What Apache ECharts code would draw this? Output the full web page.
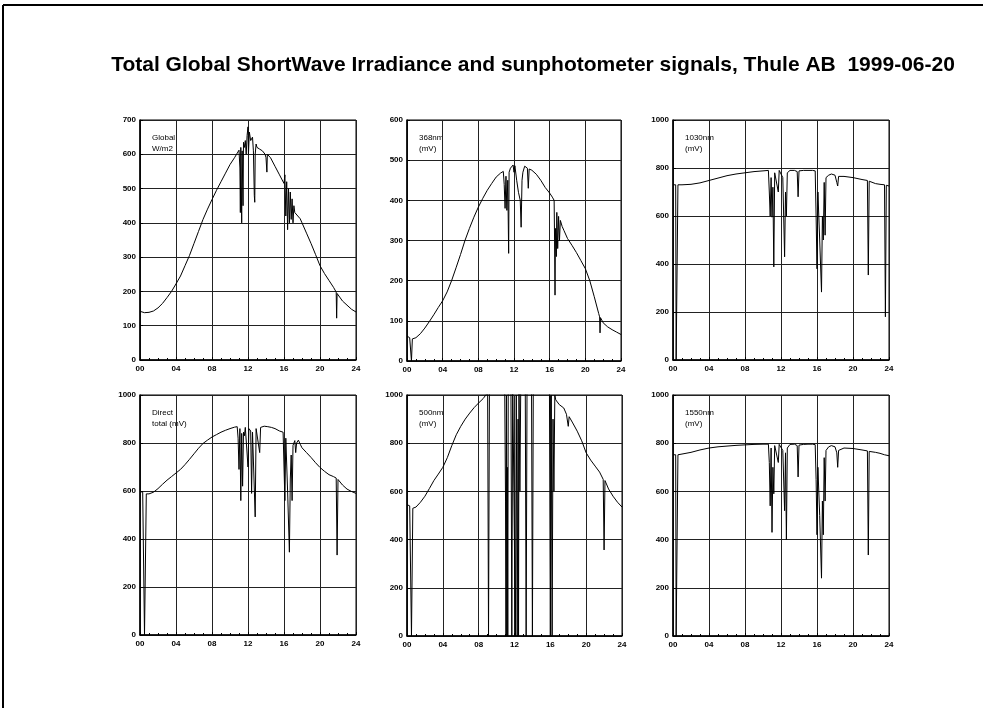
<!DOCTYPE html>
<html>
<head>
<meta charset="utf-8">
<script src="https://cdn.jsdelivr.net/npm/echarts@6/dist/echarts.min.js"></script>
<style>
  html, body { margin: 0; padding: 0; background: #fff; }
  #chart { width: 983px; height: 708px; }
</style>
</head>
<body>
<div id="chart"></div>
<script>
// Thule AB 1999-06-20: global SW irradiance + sunphotometer channels
// each series is [hour, value]

const hourTicks = ['00', '04', '08', '12', '16', '20', '24'];

const globalWm2 = [
  [0, 142], [0.5, 138], [1, 139], [1.5, 143], [2, 152], [2.5, 165], [3, 182], [3.5, 200],
  [4, 222], [4.5, 245], [5, 275], [5.5, 305], [6, 340], [6.5, 375], [7, 410], [7.5, 440],
  [8, 468], [8.5, 495], [9, 520], [9.5, 545], [10, 570], [10.5, 590], [11, 612],
  [11.1, 560], [11.15, 430], [11.2, 620], [11.3, 400], [11.35, 610], [11.45, 450], [11.5, 635],
  [11.6, 620], [11.7, 640], [11.8, 600], [11.9, 655], [12.0, 680], [12.05, 600], [12.15, 665],
  [12.3, 640], [12.5, 650], [12.6, 610], [12.7, 480], [12.75, 460], [12.8, 600], [12.9, 630],
  [13.0, 620], [13.3, 615], [13.6, 610], [13.9, 600], [14.0, 590], [14.1, 548], [14.15, 600],
  [14.5, 590], [15, 565], [15.5, 540], [15.8, 525], [16.0, 515], [16.1, 540], [16.2, 420],
  [16.3, 520], [16.4, 380], [16.5, 500], [16.6, 400], [16.7, 490], [16.8, 410], [16.9, 470],
  [17.0, 400], [17.1, 450], [17.2, 430], [17.4, 430], [17.8, 412], [18, 400], [18.5, 370],
  [19, 340], [19.5, 308], [20, 275], [20.5, 252], [21, 232], [21.5, 212], [21.8, 198],
  [21.85, 122], [21.9, 194], [22, 190], [22.5, 172], [23, 160], [23.5, 148], [24, 140]
];

const nm368 = [
  [0, 62], [0.3, 58], [0.45, 55], [0.5, 0], [0.55, 0], [0.6, 55], [0.8, 56], [1, 58],
  [1.5, 68], [2, 82], [2.5, 98], [3, 115], [3.5, 133], [4, 150], [4.5, 172], [5, 200],
  [5.5, 232], [6, 265], [6.5, 300], [7, 330], [7.5, 358], [8, 383], [8.5, 405], [9, 425],
  [9.5, 442], [10, 458], [10.5, 468], [10.8, 472], [10.9, 440], [11.0, 380], [11.1, 460],
  [11.2, 375], [11.3, 450], [11.4, 268], [11.45, 470], [11.6, 480], [11.8, 478], [11.9, 488],
  [12.0, 470], [12.1, 486], [12.3, 450], [12.5, 420], [12.7, 400], [12.8, 333], [12.9, 450],
  [13.0, 470], [13.2, 485], [13.5, 480], [13.6, 430], [13.7, 478], [14, 475], [14.5, 465],
  [15, 450], [15.5, 432], [16, 418], [16.3, 408], [16.5, 400], [16.55, 300], [16.6, 164],
  [16.65, 330], [16.75, 260], [16.8, 370], [16.9, 280], [17.0, 360], [17.1, 300], [17.2, 350],
  [17.4, 335], [17.6, 325], [18, 305], [18.5, 288], [19, 270], [19.5, 250], [20, 230],
  [20.5, 200], [21, 160], [21.5, 118], [21.6, 110], [21.65, 70], [21.7, 108], [22, 95],
  [22.5, 85], [23, 78], [23.5, 72], [24, 66]
];

const nm1030 = [
  [0, 730], [0.3, 730], [0.35, 0], [0.5, 0], [0.55, 730], [1, 730], [2, 732], [3, 738],
  [4, 748], [5, 758], [6, 768], [7, 775], [8, 780], [9, 785], [10, 788], [10.6, 790],
  [10.7, 700], [10.8, 600], [10.9, 760], [11.0, 595], [11.1, 720], [11.2, 388], [11.3, 780],
  [11.5, 785], [11.7, 700], [11.8, 790], [12.0, 785], [12.2, 760], [12.4, 430], [12.5, 700],
  [12.6, 600], [12.7, 780], [13.0, 790], [13.5, 790], [13.8, 785], [13.9, 680], [14.0, 788],
  [14.5, 790], [15.0, 790], [15.5, 790], [15.8, 788], [15.9, 600], [16.0, 380], [16.1, 700],
  [16.3, 500], [16.5, 283], [16.6, 600], [16.7, 500], [16.8, 740], [16.9, 520], [17.0, 760],
  [17.3, 770], [17.6, 775], [18.0, 770], [18.2, 740], [18.3, 725], [18.4, 765], [19, 765],
  [20, 760], [21, 752], [21.6, 748], [21.7, 354], [21.8, 745], [22.5, 735], [23, 732],
  [23.5, 730], [23.6, 180], [23.7, 728], [24, 725]
];

const directTotal = [
  [0, 598], [0.3, 595], [0.45, 590], [0.5, 0], [0.65, 0], [0.7, 588], [1, 588], [1.5, 595],
  [2, 610], [2.5, 628], [3, 645], [3.5, 660], [4, 675], [4.5, 690], [5, 710], [5.5, 732],
  [6, 755], [6.5, 778], [7, 798], [7.5, 812], [8, 825], [8.5, 835], [9, 845], [9.5, 853],
  [10, 860], [10.5, 866], [10.8, 868], [10.9, 820], [11.0, 690], [11.1, 860], [11.2, 560],
  [11.3, 840], [11.4, 620], [11.5, 845], [11.6, 830], [11.7, 865], [11.9, 870], [12.0, 700],
  [12.1, 860], [12.3, 850], [12.4, 590], [12.5, 845], [12.7, 840], [12.8, 492], [12.9, 860],
  [13.1, 868], [13.3, 760], [13.4, 865], [13.8, 870], [14.2, 868], [14.6, 865], [15, 860],
  [15.5, 850], [15.9, 845], [16.0, 700], [16.1, 560], [16.2, 820], [16.4, 600], [16.6, 345],
  [16.7, 650], [16.8, 750], [16.9, 560], [17.0, 790], [17.2, 810], [17.3, 760], [17.4, 800],
  [17.6, 812], [17.8, 795], [18, 780], [18.5, 760], [19, 740], [19.5, 718], [20, 698],
  [20.5, 682], [21, 668], [21.5, 660], [21.8, 654], [21.9, 333], [22, 648], [22.5, 625],
  [23, 608], [23.5, 598], [24, 590]
];

const nm500 = [
  [0, 545], [0.3, 540], [0.45, 535], [0.5, 0], [0.6, 0], [0.65, 530], [1, 535], [1.5, 555],
  [2, 580], [2.5, 612], [3, 645], [3.5, 672], [4, 700], [4.5, 740], [5, 790], [5.5, 835],
  [6, 870], [6.5, 900], [7, 925], [7.5, 948], [8, 967], [8.5, 985], [8.8, 1000], [9.0, 1010],
  [9.1, 0], [9.2, 1020], [10, 1050], [10.9, 1060], [11.0, 560], [11.05, 0], [11.1, 1000],
  [11.15, 0], [11.2, 700], [11.25, 0], [11.3, 1050], [11.6, 1060], [11.7, 0], [11.8, 1060],
  [12.0, 1060], [12.1, 0], [12.2, 1000], [12.3, 0], [12.4, 900], [12.45, 0], [12.5, 1050],
  [12.6, 600], [12.7, 1050], [13.0, 1060], [13.2, 1050], [13.3, 0], [13.4, 1050], [13.9, 1050],
  [14.0, 0], [14.1, 1050], [15, 1050], [15.9, 1040], [16.0, 0], [16.1, 1000], [16.2, 0],
  [16.3, 900], [16.4, 600], [16.5, 1000], [16.6, 980], [17, 960], [17.5, 946], [17.8, 920],
  [18, 870], [18.1, 910], [18.5, 884], [19, 850], [19.5, 810], [20, 760], [20.5, 730],
  [21, 705], [21.5, 680], [21.9, 650], [22.0, 357], [22.1, 645], [22.5, 610], [23, 580],
  [23.5, 555], [24, 535]
];

const nm1550 = [
  [0, 752], [0.3, 752], [0.35, 0], [0.5, 0], [0.55, 752], [1, 755], [2, 762], [3, 772],
  [4, 780], [5, 785], [6, 788], [7, 791], [8, 793], [9, 795], [10, 796], [10.6, 796],
  [10.7, 720], [10.8, 540], [10.9, 780], [11.0, 430], [11.1, 700], [11.2, 590], [11.3, 790],
  [11.5, 795], [11.7, 720], [11.8, 795], [12.0, 790], [12.2, 770], [12.4, 520], [12.5, 760],
  [12.6, 400], [12.7, 780], [13.0, 795], [13.5, 796], [13.8, 790], [13.9, 660], [14.0, 792],
  [14.5, 795], [15, 796], [15.5, 796], [15.8, 794], [15.9, 650], [16.0, 420], [16.1, 700],
  [16.3, 500], [16.5, 240], [16.6, 560], [16.7, 420], [16.8, 740], [16.9, 560], [17.0, 770],
  [17.3, 785], [17.6, 790], [18.0, 785], [18.2, 760], [18.3, 700], [18.4, 770], [19, 780],
  [20, 778], [21, 772], [21.6, 768], [21.7, 336], [21.8, 766], [22.5, 762], [23, 758],
  [23.5, 752], [24, 748]
];

const panels = [
  { data: globalWm2, max: 700, step: 100, note: ['Global', 'W/m2'], box: [140, 120, 216, 240] },
  { data: nm368, max: 600, step: 100, note: ['368nm', '(mV)'], box: [407, 120, 214, 241] },
  { data: nm1030, max: 1000, step: 200, note: ['1030nm', '(mV)'], box: [673, 120, 216, 240] },
  { data: directTotal, max: 1000, step: 200, note: ['Direct', 'total (mV)'], box: [140, 395, 216, 240] },
  { data: nm500, max: 1000, step: 200, note: ['500nm', '(mV)'], box: [407, 395, 215, 241] },
  { data: nm1550, max: 1000, step: 200, note: ['1550nm', '(mV)'], box: [673, 395, 216, 241] }
];

const labelFont = {
  color: '#000',
  fontSize: 8,
  fontWeight: 'bold',
  fontFamily: 'Liberation Sans, Arial, sans-serif'
};

const chart = echarts.init(document.getElementById('chart'));

const grids = [];
const xAxes = [];
const yAxes = [];
const series = [];
const graphics = [
  { type: 'line', shape: { x1: 3, y1: 5, x2: 983, y2: 5 }, style: { stroke: '#000', lineWidth: 2 } },
  { type: 'line', shape: { x1: 3, y1: 5, x2: 3, y2: 708 }, style: { stroke: '#000', lineWidth: 2 } }
];

panels.forEach((p, i) => {
  const [left, top, width, height] = p.box;
  grids.push({ left, top, width, height, show: true, borderColor: '#000', borderWidth: 1, backgroundColor: 'transparent' });

  xAxes.push({
    gridIndex: i,
    type: 'value',
    min: 0,
    max: 24,
    interval: 4,
    axisLine: { show: true, lineStyle: { color: '#000', width: 1.5 } },
    axisTick: { show: true, inside: true, length: 3, lineStyle: { color: '#000' } },
    minorTick: { show: true, splitNumber: 4, length: 2, lineStyle: { color: '#000' } },
    splitLine: { show: true, lineStyle: { color: '#222', width: 1 } },
    axisLabel: Object.assign({}, labelFont, {
      margin: 5,
      formatter: (v) => hourTicks[Math.round(v / 4)]
    })
  });

  yAxes.push({
    gridIndex: i,
    type: 'value',
    min: 0,
    max: p.max,
    interval: p.step,
    axisLine: { show: true, lineStyle: { color: '#000', width: 1.5 } },
    axisTick: { show: true, inside: true, length: 3, lineStyle: { color: '#000' } },
    splitLine: { show: true, lineStyle: { color: '#222', width: 1 } },
    axisLabel: Object.assign({}, labelFont, { margin: 4, formatter: (v) => String(v) })
  });

  series.push({
    type: 'line',
    xAxisIndex: i,
    yAxisIndex: i,
    data: p.data,
    showSymbol: false,
    clip: true,
    animation: false,
    lineStyle: { color: '#000', width: 1 }
  });

  graphics.push({
    type: 'text',
    left: left + 12,
    top: top + 12,
    style: {
      text: p.note.join('\n'),
      fill: '#000',
      font: '8px "Liberation Sans", Arial, sans-serif',
      lineHeight: 11
    }
  });
});

chart.setOption({
  animation: false,
  backgroundColor: '#fff',
  title: {
    text: 'Total Global ShortWave Irradiance and sunphotometer signals, Thule AB  1999-06-20',
    left: 528,
    top: 50,
    textAlign: 'center',
    textStyle: {
      color: '#000',
      fontSize: 21,
      fontWeight: 'bold',
      fontFamily: 'Liberation Sans, Arial, sans-serif'
    }
  },
  grid: grids,
  xAxis: xAxes,
  yAxis: yAxes,
  series: series,
  graphic: graphics
});
</script>
</body>
</html>
